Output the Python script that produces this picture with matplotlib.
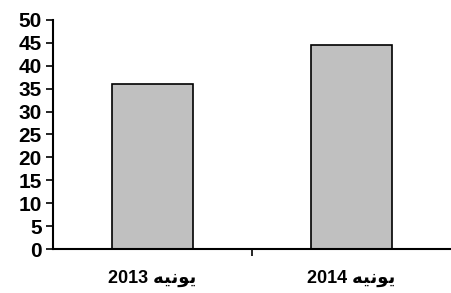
import matplotlib
matplotlib.use('Agg')
from matplotlib import pyplot as plt
from matplotlib.ticker import FixedLocator

plt.rcParams['font.family'] = ['Liberation Sans', 'DejaVu Sans']
plt.rcParams['font.weight'] = 'bold'

# data
categories = ['2013 \ufeea\ufef4\ufee7\ufeee\ufef3', '2014 \ufeea\ufef4\ufee7\ufeee\ufef3']  # يونيه, pre-shaped visual order
values = [36, 44.5]
y_ticks = list(range(0, 51, 5))

fig = plt.figure(figsize=(4.51, 2.93), dpi=100)
ax = fig.add_axes([0.1175, 0.150, 0.8825, 0.782])

x = list(range(len(categories)))
ax.bar(x, values, width=0.41, color='#C0C0C0', edgecolor='black', linewidth=1.2)

ax.set_xlim(-0.5, 1.5)
ax.set_ylim(0, 50)
ax.set_yticks(y_ticks)
ax.set_yticklabels([str(t) for t in y_ticks], fontsize=15, fontweight='bold')
ax.set_xticks(x)
ax.set_xticklabels(categories, fontsize=13, fontweight='bold')
ax.xaxis.set_minor_locator(FixedLocator([0.5]))
ax.tick_params(axis='x', which='major', length=0, pad=15)
ax.tick_params(axis='x', which='minor', length=5, width=1.2, direction='out')
ax.tick_params(axis='y', length=5, width=1.2, direction='out', pad=3)

for s in ['top', 'right']:
    ax.spines[s].set_visible(False)
for s in ['left', 'bottom']:
    ax.spines[s].set_linewidth(1.5)

fig.savefig('out.png', dpi=100)
